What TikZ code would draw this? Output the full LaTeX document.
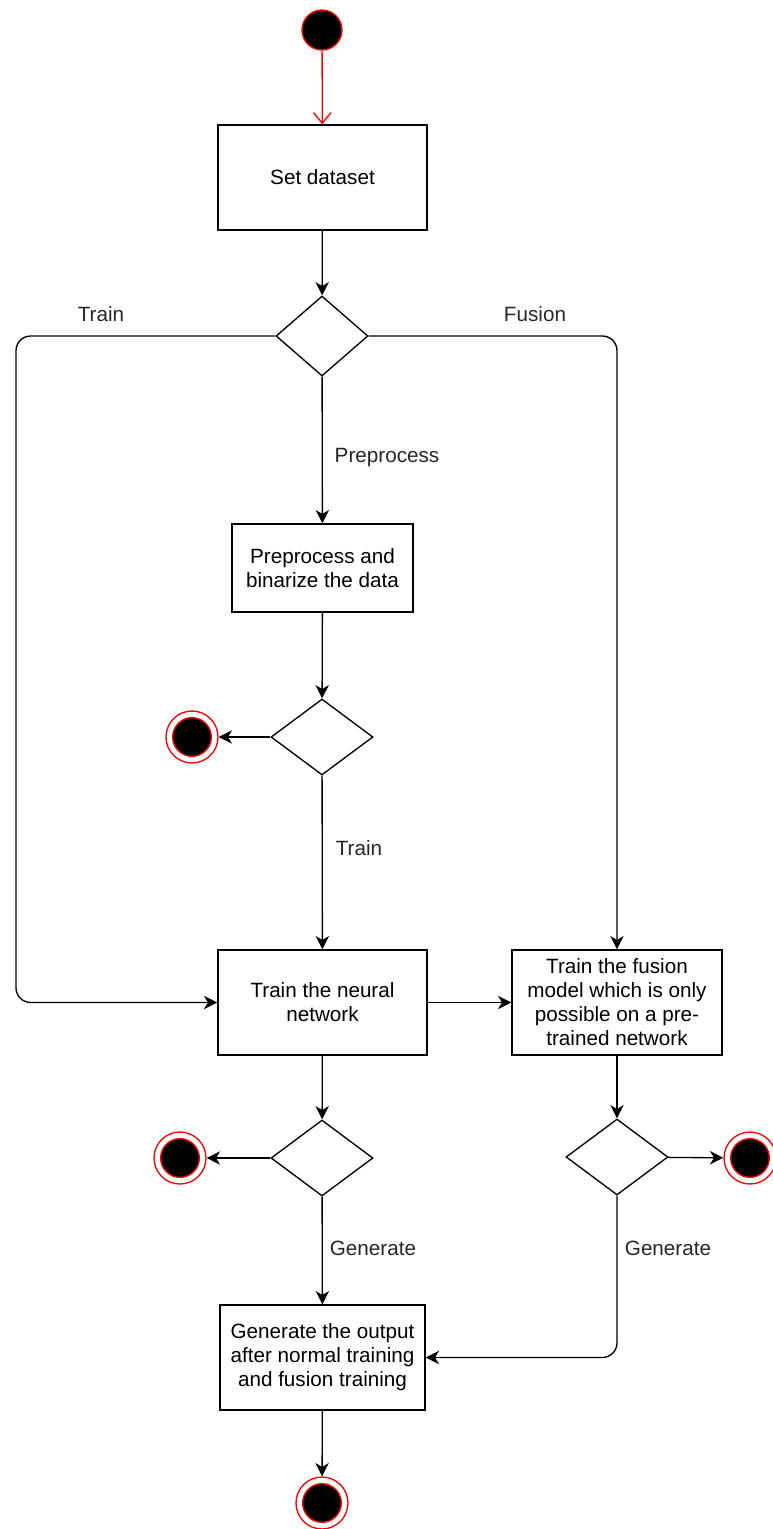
\documentclass[tikz,border=0pt]{standalone}
\usepackage{fontspec}
\setmainfont{Liberation Sans}
\usetikzlibrary{shapes.geometric,arrows.meta}

\tikzset{every picture/.style={line width=1pt}}
\tikzset{
  actbox/.style={draw, rectangle, align=center, inner sep=2pt, font=\fontsize{15.5}{18}\selectfont},
  choice/.style={draw, diamond, inner sep=0pt, minimum width=76.5pt, minimum height=57pt},
  startstate/.style={circle, draw=red, fill=black, minimum size=30pt, inner sep=0pt},
  endstate/.style={circle, draw=red, minimum size=39pt, inner sep=0pt,
    path picture={\draw[red, fill=black] (path picture bounding box.center) circle (14.5pt);}},
  flow/.style={-{Stealth[length=10pt,width=10pt,inset=3pt]}},
  lbl/.style={font=\fontsize{15.5}{18}\selectfont, text=black!85}
}

\begin{document}
\begin{tikzpicture}[x=0.75pt,y=0.75pt,yscale=-1,xscale=1]
	\useasboundingbox (0,0) rectangle (773,1529);

	%Initial state
	\node[startstate] (start) at (322,30) {};
	%Activities
	\node[actbox, minimum width=156.75pt, minimum height=78.75pt] (dataset) at (322.5,177.5) {Set dataset};
	\node[actbox, minimum width=135.75pt, minimum height=66pt] (prep) at (322.5,568) {Preprocess and\\binarize the data};
	\node[actbox, minimum width=156.75pt, minimum height=78.75pt] (trainnn) at (322.5,1002.5) {Train the neural\\network};
	\node[actbox, minimum width=157.5pt, minimum height=78.75pt] (fusion) at (617,1002.5) {Train the fusion\\model which is only\\possible on a pre-\\trained network};
	\node[actbox, minimum width=153.75pt, minimum height=78.75pt] (gen) at (322.5,1357.5) {Generate the output\\after normal training\\and fusion training};
	%Decisions
	\node[choice, minimum width=69pt, minimum height=60pt] (split) at (322,336) {};
	\node[choice] (prepq) at (322,737) {};
	\node[choice] (trainq) at (322,1158) {};
	\node[choice] (fusionq) at (617,1157) {};
	%Final states
	\node[endstate] (prepend) at (192,737) {};
	\node[endstate] (trainend) at (180,1158) {};
	\node[endstate] (fusionend) at (750,1158) {};
	\node[endstate] (genend) at (322,1503) {};
	\coordinate (trainrail) at (16,1002.5);

	%Straight Lines
	\draw[red, -{Straight Barb[length=8pt,width=13pt]}] (start) -- (dataset);
	\draw[flow] (dataset) -- (split);
	\draw[flow, rounded corners=11pt] (split.west) -| (trainrail) -- (trainnn.west);
	\draw[flow, rounded corners=11pt] (split.east) -| (fusion.north);
	\draw[flow] (split) -- (prep);
	\draw[flow] (prep) -- (prepq);
	\draw[flow] (prepq) -- (prepend);
	\draw[flow] (prepq) -- (trainnn);
	\draw[flow] (trainnn) -- (fusion);
	\draw[flow] (trainnn) -- (trainq);
	\draw[flow] (trainq) -- (trainend);
	\draw[flow] (fusion) -- (fusionq);
	\draw[flow] (fusionq) -- (fusionend);
	\draw[flow] (trainq) -- (gen);
	\draw[flow, rounded corners=11pt] (fusionq.south) |- (gen.east);
	\draw[flow] (gen) -- (genend);

	% Text Node
	\node[lbl] (trainlbl) at (101,314) {Train};
	% Text Node
	\node[lbl] (fusionlbl) at (535,314) {Fusion};
	% Text Node
	\node[lbl] (preplbl) at (387,458) {Preprocess};
	% Text Node
	\node[lbl] (trainlbl2) at (359,848) {Train};
	% Text Node
	\node[lbl] (genlbl) at (373,1248) {Generate};
	% Text Node
	\node[lbl] (genlbl2) at (668,1248) {Generate};

\end{tikzpicture}
\end{document}
